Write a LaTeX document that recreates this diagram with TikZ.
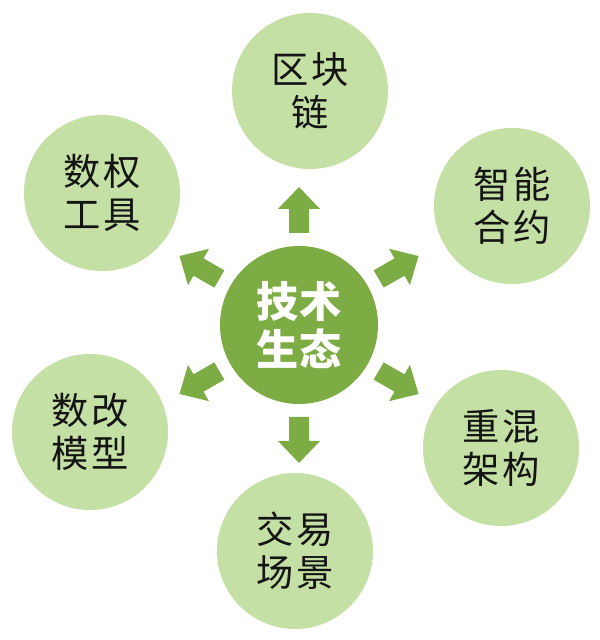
\documentclass[tikz,border=0pt]{standalone}
\usepackage{fontspec}
\newfontfamily\cjk{Noto Sans CJK SC}
\newfontfamily\cjkwide[LetterSpace=8]{Noto Sans CJK SC}
\usetikzlibrary{calc}

\definecolor{hubgreen}{RGB}{125,172,69}
\definecolor{petalgreen}{RGB}{197,224,165}
\definecolor{petaltext}{RGB}{20,20,20}

\begin{document}
\begin{tikzpicture}[
			x=0.025cm, y=0.025cm,
			hub node/.style={circle, fill=hubgreen, minimum size=3.95cm, inner sep=0pt, align=center, text=white, font=\cjk\bfseries\fontsize{30}{34}\selectfont},
			petal node/.style={circle, fill=petalgreen, minimum size=3.9cm, inner sep=0pt, align=center, text=petaltext, font=\cjkwide\fontsize{26.5}{30.5}\selectfont},
			out arrow/.style={fill=hubgreen}
			]
			\useasboundingbox (0,0) rectangle (600,640);
			
			\node[hub node] (hub) at (299,315) {技术\\生态};
			
			\node[petal node] (chain)    at (310,549) {区块\\链};
			\node[petal node] (contract) at (512,434) {智能\\合约};
			\node[petal node] (remix)    at (501,192) {重混\\架构};
			\node[petal node] (trade)    at (295,89)  {交易\\场景};
			\node[petal node] (model)    at (90,208)  {数改\\模型};
			\node[petal node] (tool)     at (102,447) {数权\\工具};
			
			% block arrows round the hub
			\foreach \ang in {90,30,-30,-90,-150,150}
				\fill[out arrow, shift={(hub.center)}, rotate=\ang]
					(92,-10) -- (116,-10) -- (116,-21) -- (138,0) -- (116,21) -- (116,10) -- (92,10) -- cycle;
		\end{tikzpicture}
\end{document}
